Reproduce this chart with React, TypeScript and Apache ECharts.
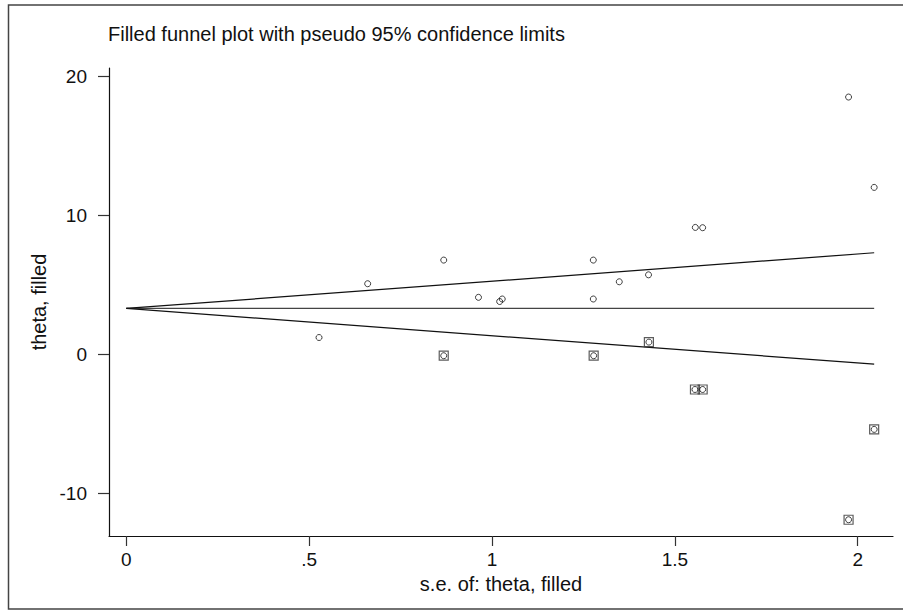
import React, { useEffect, useRef } from "react";
import * as echarts from "echarts";

const titleText = "Filled funnel plot with pseudo 95% confidence limits";
const xAxisTitle = "s.e. of: theta, filled";
const yAxisTitle = "theta, filled";

// observed studies
const obsSe = [0.527, 0.66, 0.868, 0.963, 1.021, 1.028, 1.277, 1.277, 1.348, 1.428, 1.556, 1.576, 1.975, 2.045];
const obsTheta = [1.19, 5.06, 6.76, 4.08, 3.78, 3.96, 6.76, 3.96, 5.2, 5.7, 9.11, 9.09, 18.49, 11.99];

// filled (imputed) studies
const filledSe = [0.868, 1.278, 1.429, 1.555, 1.576, 1.975, 2.045];
const filledTheta = [-0.12, -0.12, 0.86, -2.55, -2.55, -11.92, -5.42];

const pooledTheta = 3.28;
const zCrit = 1.96;

const xTicks = [0, 0.5, 1, 1.5, 2];
const xTickLabels = ["0", ".5", "1", "1.5", "2"];
const yTicks = [-10, 0, 10, 20];
const yTickLabels = ["-10", "0", "10", "20"];

const FONT = "'Liberation Sans', Arial, Helvetica, sans-serif";

export default function App() {
  const ref = useRef<HTMLDivElement>(null);
  useEffect(() => {
    if (!ref.current) return;
    const chart = echarts.init(ref.current, null, { renderer: "svg" });
    const maxSe = Math.max(...obsSe, ...filledSe);
    const centerLine = [[0, pooledTheta], [maxSe, pooledTheta]];
    const upperLine = [[0, pooledTheta], [maxSe, pooledTheta + zCrit * maxSe]];
    const lowerLine = [[0, pooledTheta], [maxSe, pooledTheta - zCrit * maxSe]];
    const lineStyle = { color: "#111", width: 1.2 };
    const symStyle = { color: "rgba(0,0,0,0)", borderColor: "#111", borderWidth: 1 };

    chart.setOption({
      animation: false,
      backgroundColor: "#fff",
      textStyle: { fontFamily: FONT },
      title: {
        text: titleText,
        left: 103,
        top: 19,
        textStyle: { fontFamily: FONT, fontSize: 20, fontWeight: "normal", color: "#111" },
      },
      graphic: [
        {
          type: "rect",
          shape: { x: 8.5, y: 5, width: 910, height: 604 },
          style: { fill: "none", stroke: "#444", lineWidth: 1.5 },
          silent: true,
          z: -1,
        },
      ],
      grid: { left: 109, right: 10, top: 68, bottom: 75, containLabel: false },
      xAxis: {
        type: "value",
        min: -0.0473,
        max: 2.0965,
        name: xAxisTitle,
        nameLocation: "middle",
        nameGap: 32,
        nameTextStyle: { fontFamily: FONT, fontSize: 20, color: "#111", verticalAlign: "top" },
        axisLine: { show: true, onZero: false, lineStyle: { color: "#111", width: 1.2 } },
        axisTick: { show: true, customValues: xTicks, length: 10, lineStyle: { color: "#333", width: 1.2 } },
        axisLabel: {
          customValues: xTicks,
          margin: 14,
          fontFamily: FONT,
          fontSize: 19,
          color: "#111",
          formatter: (v: number) => {
            const i = xTicks.indexOf(v);
            return i >= 0 ? xTickLabels[i] : "";
          },
        },
        splitLine: { show: false },
      },
      yAxis: {
        type: "value",
        min: -13.09,
        max: 20.58,
        name: yAxisTitle,
        nameLocation: "middle",
        nameGap: 58,
        nameRotate: 90,
        nameTextStyle: { fontFamily: FONT, fontSize: 20, color: "#111" },
        axisLine: { show: true, onZero: false, lineStyle: { color: "#111", width: 1.2 } },
        axisTick: { show: true, customValues: yTicks, length: 11, lineStyle: { color: "#333", width: 1.2 } },
        axisLabel: {
          customValues: yTicks,
          margin: 22,
          fontFamily: FONT,
          fontSize: 19,
          color: "#111",
          formatter: (v: number) => {
            const i = yTicks.indexOf(v);
            return i >= 0 ? yTickLabels[i] : "";
          },
        },
        splitLine: { show: false },
      },
      series: [
        { type: "line", data: centerLine, symbol: "none", lineStyle: { color: "#444", width: 1.2 }, silent: true },
        { type: "line", data: upperLine, symbol: "none", lineStyle, silent: true },
        { type: "line", data: lowerLine, symbol: "none", lineStyle, silent: true },
        {
          type: "scatter",
          data: filledSe.map((s, i) => [s, filledTheta[i]]),
          symbol: "rect",
          symbolSize: 9,
          itemStyle: { color: "rgba(0,0,0,0)", borderColor: "#333", borderWidth: 1.2 },
          z: 3,
        },
        {
          type: "scatter",
          data: filledSe.map((s, i) => [s, filledTheta[i]]),
          symbol: "circle",
          symbolSize: 6,
          itemStyle: symStyle,
          z: 4,
        },
        {
          type: "scatter",
          data: obsSe.map((s, i) => [s, obsTheta[i]]),
          symbol: "circle",
          symbolSize: 6,
          itemStyle: symStyle,
          z: 4,
        },
      ],
    });
    return () => chart.dispose();
  }, []);
  return (
    <div
      ref={ref}
      style={{ position: "absolute", left: 0, top: 0, width: 903, height: 611, background: "#fff" }}
    />
  );
}
